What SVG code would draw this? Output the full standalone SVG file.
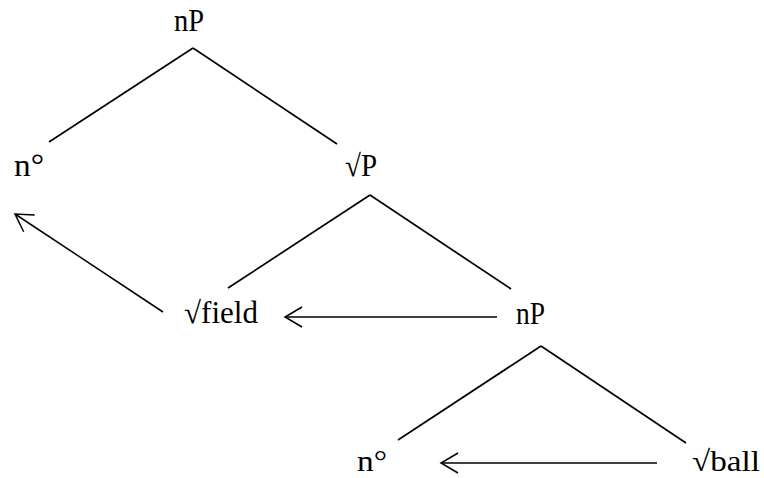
<svg xmlns="http://www.w3.org/2000/svg" width="764" height="478" viewBox="0 0 764 478">
<style>
  .edge { stroke: #000; stroke-width: 1.7; fill: none; }
  .move { stroke: #000; stroke-width: 1.5; fill: none; marker-end: url(#open); }
</style>
<defs>
  <marker id="open" markerUnits="userSpaceOnUse" viewBox="-19 -12 21 24" refX="0" refY="0" markerWidth="21" markerHeight="24" orient="auto">
    <path d="M-17,-10 L0,0 L-17,10" fill="none" stroke="#000" stroke-width="1.5"/>
  </marker>
</defs>
<rect width="764" height="478" fill="#fff"/>
<g id="connectors">
  <line class="edge" x1="193" y1="48" x2="49" y2="142"/>
  <line class="edge" x1="193" y1="48" x2="337" y2="144"/>
  <line class="edge" x1="370" y1="195" x2="228" y2="288"/>
  <line class="edge" x1="370" y1="195" x2="511" y2="289"/>
  <line class="edge" x1="541" y1="346" x2="398" y2="440"/>
  <line class="edge" x1="541" y1="346" x2="686" y2="443"/>
  <line class="move" x1="163" y1="312" x2="15" y2="214"/>
  <line class="move" x1="497" y1="317" x2="285" y2="317"/>
  <line class="move" x1="657" y1="463" x2="441" y2="463"/>
</g>
<g font-family="Liberation Serif" font-size="31" fill="#000">
<g id="nP-top"><text x="174" y="31" textLength="30" lengthAdjust="spacingAndGlyphs">nP</text></g>
<g id="n-top"><text x="14" y="176" textLength="30" lengthAdjust="spacingAndGlyphs">n°</text></g>
<g id="rootP"><text x="345" y="176" textLength="32" lengthAdjust="spacingAndGlyphs">√P</text></g>
<g id="field"><text x="184" y="323" textLength="74" lengthAdjust="spacingAndGlyphs">√field</text></g>
<g id="nP-mid"><text x="516" y="324" textLength="29" lengthAdjust="spacingAndGlyphs">nP</text></g>
<g id="n-bottom"><text x="357" y="471" font-size="29" textLength="30" lengthAdjust="spacingAndGlyphs">n°</text></g>
<g id="ball"><text x="692" y="471" font-size="29" textLength="68" lengthAdjust="spacingAndGlyphs">√ball</text></g>
</g>
</svg>
